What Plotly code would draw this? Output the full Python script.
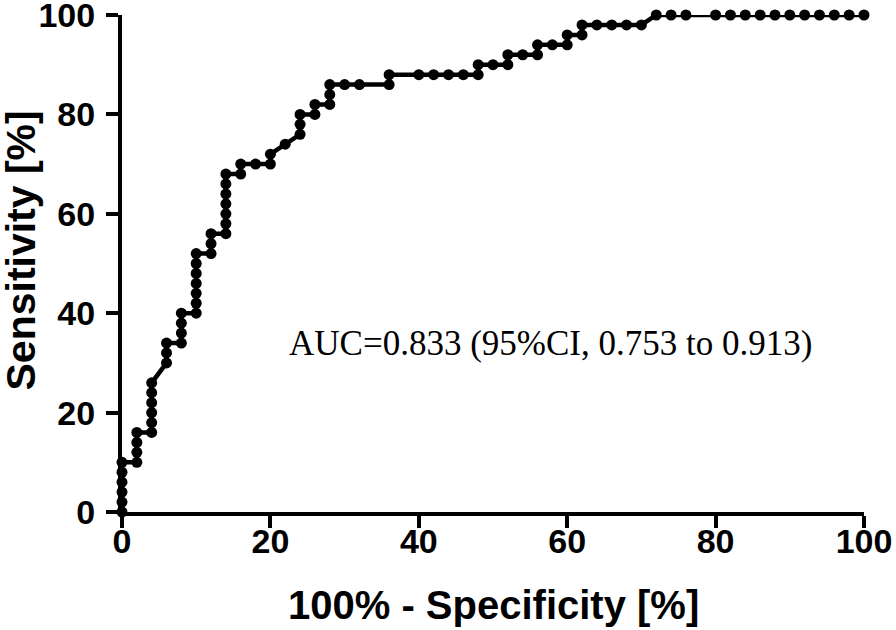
import plotly.graph_objects as go

# ROC curve points (100% - specificity, sensitivity), in %
fpr = [0, 0, 0, 0, 0, 0,
       2, 2, 2, 2,
       4, 4, 4, 4, 4, 4,
       6, 6, 6,
       8, 8, 8, 8,
       10, 10, 10, 10, 10, 10, 10,
       12, 12, 12,
       14, 14, 14, 14, 14, 14, 14,
       16, 16, 18, 20, 20, 22, 24, 24, 24, 26, 26, 28, 28, 28,
       30, 32, 36, 36, 40, 42, 44, 46, 48, 48, 50, 52, 52, 54, 56, 56,
       58, 60, 60, 62, 62, 64, 66, 68, 70, 72, 74, 76,
       80, 82, 84, 86, 88, 90, 92, 94, 96, 98, 100]
tpr = [0, 2, 4, 6, 8, 10,
       10, 12, 14, 16,
       16, 18, 20, 22, 24, 26,
       30, 32, 34,
       34, 36, 38, 40,
       40, 42, 44, 46, 48, 50, 52,
       52, 54, 56,
       56, 58, 60, 62, 64, 66, 68,
       68, 70, 70, 70, 72, 74, 76, 78, 80, 80, 82, 82, 84, 86,
       86, 86, 86, 88, 88, 88, 88, 88, 88, 90, 90, 90, 92, 92, 92, 94,
       94, 94, 96, 96, 98, 98, 98, 98, 98, 100, 100, 100,
       100, 100, 100, 100, 100, 100, 100, 100, 100, 100, 100]

x_ticks = [0, 20, 40, 60, 80, 100]
y_ticks = [0, 20, 40, 60, 80, 100]
auc_label = "AUC=0.833 (95%CI, 0.753 to 0.913)"
x_title = "100% - Specificity [%]"
y_title = "Sensitivity [%]"

sans = "Liberation Sans, Arial, sans-serif"

fig = go.Figure()
fig.add_trace(go.Scatter(
    x=fpr, y=tpr, mode="lines+markers",
    line=dict(color="black", width=4.5),
    marker=dict(color="black", size=11),
    cliponaxis=False, showlegend=False,
))

fig.add_annotation(
    x=57.7, y=34, xref="x", yref="y", text=auc_label, showarrow=False,
    font=dict(family="Liberation Serif, Times New Roman, serif", size=35, color="black"),
)

tick_font = dict(family=sans, size=34, color="black", weight="bold")
title_font = dict(family=sans, size=40, color="black", weight="bold")

# axis titles as annotations so they sit where the reference has them
fig.add_annotation(
    x=0.5, y=0, xref="paper", yref="paper", text=x_title, showarrow=False,
    xanchor="center", yanchor="middle", yshift=-93, font=title_font,
)
fig.add_annotation(
    x=0, y=0.5, xref="paper", yref="paper", text=y_title, showarrow=False,
    textangle=-90, xanchor="center", yanchor="middle", xshift=-102, yshift=13,
    font=dict(family=sans, size=41, color="black", weight="bold"),
)

fig.update_xaxes(
    range=[0, 100], tickvals=x_ticks, ticks="outside", ticklen=12, tickwidth=3.5,
    tickcolor="black", showline=True, linewidth=4, linecolor="black",
    showgrid=False, zeroline=False, tickfont=tick_font, automargin=False,
    ticklabeloverflow="allow", ticklabelstandoff=-16,
)
fig.update_yaxes(
    range=[0, 100], tickvals=y_ticks, ticks="outside", ticklen=12, tickwidth=3.5,
    tickcolor="black", showline=True, linewidth=4, linecolor="black",
    showgrid=False, zeroline=False, tickfont=tick_font, automargin=False,
    ticklabeloverflow="allow", ticklabelstandoff=4,
)
fig.update_layout(
    width=896, height=630,
    margin=dict(l=122, r=32, t=15, b=118),
    plot_bgcolor="white", paper_bgcolor="white",
)

# drop the default 8px body margin so the figure fills the window
fig.write_html("out.html", config={"displayModeBar": False},
               post_script="document.body.style.margin='0';")
